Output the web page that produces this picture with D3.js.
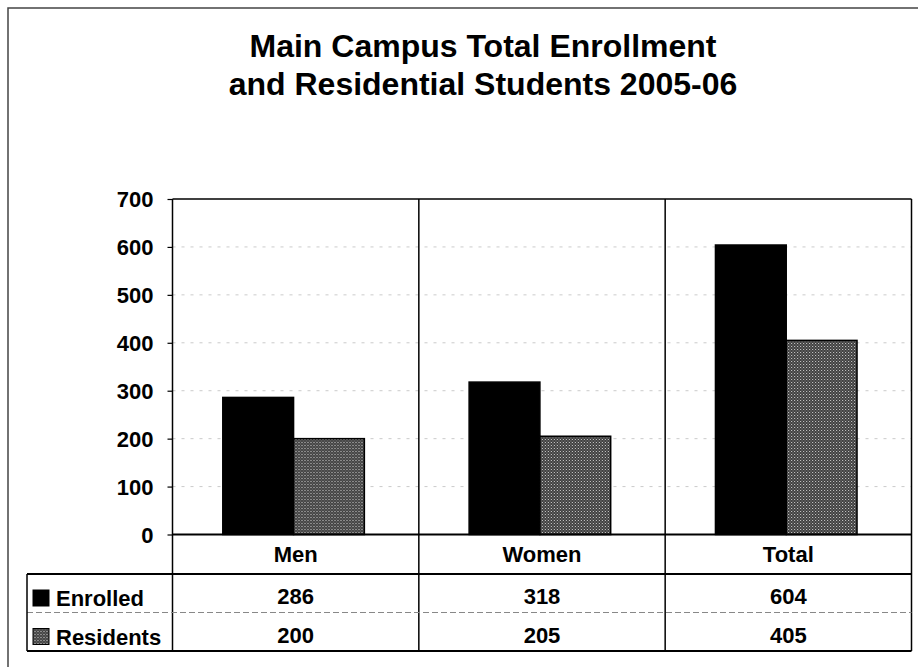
<!DOCTYPE html>
<html>
<head>
<meta charset="utf-8">
<script src="https://cdnjs.cloudflare.com/ajax/libs/d3/7.8.5/d3.min.js"></script>
<style>
  body { margin: 0; background: #fff; }
  svg text { font-family: "Liberation Sans", Arial, sans-serif; fill: #000; }
</style>
</head>
<body>
<div id="chart"></div>
<script>
// chart data
var categories = ["Men", "Women", "Total"];
var seriesNames = ["Enrolled", "Residents"];
var enrolled = [286, 318, 604];
var residents = [200, 205, 405];
var yTicks = [0, 100, 200, 300, 400, 500, 600, 700];
var titleLines = ["Main Campus Total Enrollment", "and Residential Students 2005-06"];

var svgWidth = 918;
var svgHeight = 667;
var margin = { top: 199, right: 6.5, bottom: 132.5, left: 172.5 };
var width = svgWidth - margin.left - margin.right;
var height = svgHeight - margin.top - margin.bottom;
var headerH = 39.5;  // category label row under the axis
var rowH = 38.5;     // data table rows
var tableLeft = 27;

var svg = d3.select("#chart")
    .append("svg")
    .attr("width", svgWidth)
    .attr("height", svgHeight);

// stipple fill for the residents bars
var defs = svg.append("defs");
var pat = defs.append("pattern")
    .attr("id", "stipple")
    .attr("patternUnits", "userSpaceOnUse")
    .attr("width", 3)
    .attr("height", 3);
pat.append("rect").attr("width", 3).attr("height", 3).attr("fill", "#3c3c3c");
pat.append("rect").attr("x", 0).attr("y", 0).attr("width", 1).attr("height", 1).attr("fill", "#d8d8d8");
pat.append("rect").attr("x", 1.5).attr("y", 1.5).attr("width", 1).attr("height", 1).attr("fill", "#aaa");

var fills = ["#000", "url(#stipple)"];

// outer frame of the chart object
svg.append("rect")
    .attr("x", 8)
    .attr("y", 8)
    .attr("width", 930)
    .attr("height", 700)
    .attr("fill", "none")
    .attr("stroke", "#444")
    .attr("stroke-width", 1.5);

// title
svg.append("g").selectAll("text")
    .data(titleLines)
    .enter()
    .append("text")
    .attr("x", 483)
    .attr("y", (d, i) => 57 + i * 37.5)
    .attr("text-anchor", "middle")
    .style("font-size", "32px")
    .style("font-weight", "bold")
    .text(d => d);

var chartGroup = svg.append("g")
    .attr("transform", `translate(${margin.left}, ${margin.top})`);

// scales
var x0 = d3.scaleBand()
    .domain(categories)
    .range([0, width]);

var x1 = d3.scaleBand()
    .domain(seriesNames)
    .range([0, x0.bandwidth()])
    .paddingOuter(0.74)
    .align(0.48);

var y = d3.scaleLinear()
    .domain([0, 700])
    .range([height, 0]);

// faint gridlines
chartGroup.append("g")
    .selectAll("line")
    .data(yTicks.filter(t => t > 0 && t < 700))
    .enter()
    .append("line")
    .attr("x1", 0)
    .attr("x2", width)
    .attr("y1", d => y(d))
    .attr("y2", d => y(d))
    .attr("stroke", "#999")
    .attr("stroke-width", 1)
    .attr("stroke-dasharray", "3,6")
    .attr("opacity", 0.5);

// bars
var byCat = categories.map((c, i) => ({ cat: c, vals: [enrolled[i], residents[i]] }));

var catGroups = chartGroup.selectAll(".cat")
    .data(byCat)
    .enter()
    .append("g")
    .attr("class", "cat")
    .attr("transform", d => `translate(${x0(d.cat)},0)`);

catGroups.selectAll("rect")
    .data(d => d.vals.map((v, j) => ({ name: seriesNames[j], value: v, j: j })))
    .enter()
    .append("rect")
    .attr("x", d => x1(d.name))
    .attr("width", x1.bandwidth())
    .attr("y", d => y(d.value))
    .attr("height", d => height - y(d.value))
    .attr("fill", d => fills[d.j])
    .attr("stroke", "#000")
    .attr("stroke-width", 1.5);

// y axis
var leftAxis = d3.axisLeft(y)
    .tickValues(yTicks)
    .tickSize(5)
    .tickSizeOuter(0)
    .tickPadding(14);

var yAxis = chartGroup.append("g")
    .call(leftAxis);
yAxis.select(".domain").remove();
yAxis.selectAll(".tick line").attr("stroke", "#000").attr("stroke-width", 1.2);
yAxis.selectAll(".tick text")
    .style("font-size", "22px")
    .style("font-weight", "bold")
    .attr("dy", "0.36em");

// plot frame + table grid
var tableBottom = height + headerH + rowH * 2;
var grid = chartGroup.append("g")
    .attr("stroke", "#000")
    .attr("fill", "none");

grid.append("line")
    .attr("x1", 0).attr("x2", width)
    .attr("y1", 0).attr("y2", 0)
    .attr("stroke-width", 1.5);
grid.append("line")
    .attr("x1", 0).attr("x2", width)
    .attr("y1", height).attr("y2", height)
    .attr("stroke-width", 1.8);

// vertical lines through plot and table
grid.selectAll(".vline")
    .data(categories.map(c => x0(c)).concat([width]))
    .enter()
    .append("line")
    .attr("class", "vline")
    .attr("x1", d => d).attr("x2", d => d)
    .attr("y1", 0).attr("y2", tableBottom)
    .attr("stroke-width", 1.5);

// horizontal table lines
var tableLines = [height + headerH, height + headerH + rowH, tableBottom];
grid.selectAll(".hline")
    .data(tableLines)
    .enter()
    .append("line")
    .attr("class", "hline")
    .attr("x1", tableLeft - margin.left).attr("x2", width)
    .attr("y1", d => d).attr("y2", d => d)
    .attr("stroke-width", (d, i) => i === 1 ? 1 : 1.8)
    .attr("stroke", (d, i) => i === 1 ? "#888" : "#000")
    .attr("stroke-dasharray", (d, i) => i === 1 ? "6,3" : null);
grid.append("line")
    .attr("x1", tableLeft - margin.left).attr("x2", tableLeft - margin.left)
    .attr("y1", height + headerH).attr("y2", tableBottom)
    .attr("stroke-width", 1.5);

// category labels
chartGroup.append("g")
    .selectAll("text")
    .data(categories)
    .enter()
    .append("text")
    .attr("x", d => x0(d) + x0.bandwidth() / 2)
    .attr("y", height + 27)
    .attr("text-anchor", "middle")
    .style("font-size", "22px")
    .style("font-weight", "bold")
    .text(d => d);

// data table rows
var rows = [enrolled, residents];
rows.forEach(function(vals, r) {
    var rowY = height + headerH + rowH * r;
    // legend key
    chartGroup.append("rect")
        .attr("x", 33 - margin.left)
        .attr("y", rowY + 16)
        .attr("width", 16)
        .attr("height", 16)
        .attr("fill", fills[r])
        .attr("stroke", "#000")
        .attr("stroke-width", 1);
    chartGroup.append("text")
        .attr("x", 56 - margin.left)
        .attr("y", rowY + 32)
        .style("font-size", "22px")
        .style("font-weight", "bold")
        .text(seriesNames[r]);
    chartGroup.append("g")
        .selectAll("text")
        .data(vals)
        .enter()
        .append("text")
        .attr("x", (d, i) => x0(categories[i]) + x0.bandwidth() / 2)
        .attr("y", rowY + 30)
        .attr("text-anchor", "middle")
        .style("font-size", "22px")
        .style("font-weight", "bold")
        .text(d => d);
});
</script>
</body>
</html>
